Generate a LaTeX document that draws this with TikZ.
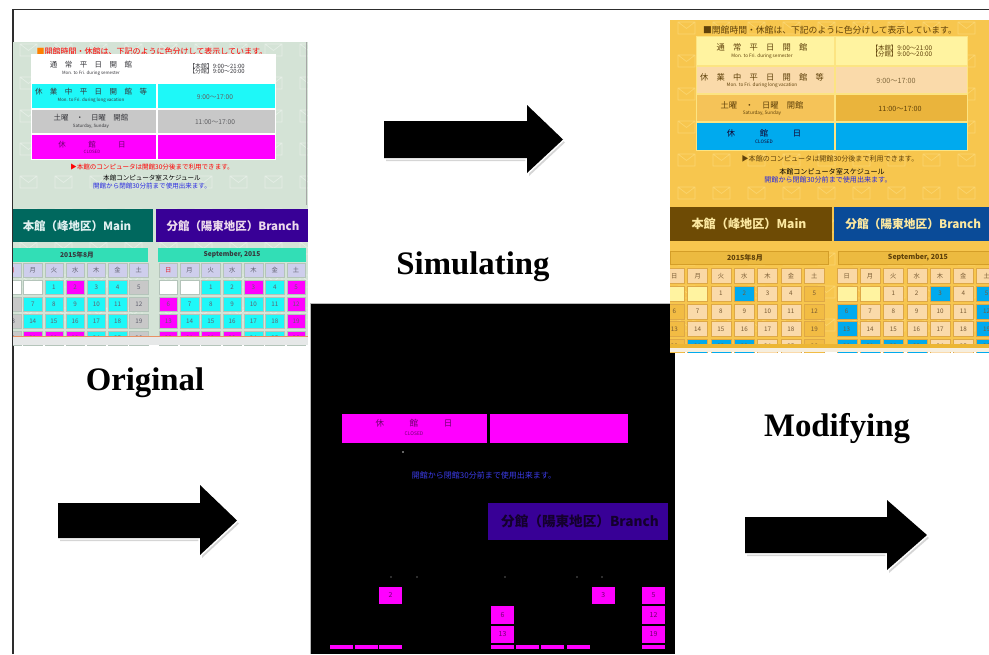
\documentclass[tikz,border=0pt]{standalone}
\usepackage{fontspec}
\setmainfont{Liberation Serif}
\newfontfamily\jp{Noto Sans CJK JP}

% frame and captions
\definecolor{framec}{RGB}{45,45,45}
% green page
\definecolor{s1bg}{RGB}{212,227,214}
\definecolor{tealbar}{RGB}{0,104,94}
\definecolor{violetbar}{RGB}{56,0,150}
\definecolor{mintbar}{RGB}{50,222,182}
\definecolor{aD}{RGB}{206,206,236}
\definecolor{aW}{RGB}{255,255,255}
\definecolor{aC}{RGB}{30,248,248}
\definecolor{aM}{RGB}{255,0,255}
\definecolor{aG}{RGB}{200,200,200}
\definecolor{aline}{RGB}{180,196,186}
\definecolor{atxt}{RGB}{95,95,110}
\definecolor{asun}{RGB}{230,30,40}
\definecolor{tabtxt}{RGB}{55,55,60}
\definecolor{linkblue}{RGB}{40,40,225}
\definecolor{s1strip}{RGB}{230,232,232}
\definecolor{s1orange}{RGB}{232,145,100}
% golden page
\definecolor{s2bg}{RGB}{247,198,78}
\definecolor{envgold}{RGB}{251,213,112}
\definecolor{bD}{RGB}{250,216,165}
\definecolor{bW}{RGB}{255,243,160}
\definecolor{bC}{RGB}{250,218,170}
\definecolor{bM}{RGB}{0,170,238}
\definecolor{bG}{RGB}{242,188,68}
\definecolor{bline}{RGB}{222,168,70}
\definecolor{btxt}{RGB}{120,90,50}
\definecolor{brownbar}{RGB}{110,75,5}
\definecolor{navybar}{RGB}{10,75,152}
\definecolor{creamtxt}{RGB}{252,232,160}
\definecolor{goldhead}{RGB}{236,186,64}
\definecolor{goldedge}{RGB}{212,158,40}
\definecolor{browntxt}{RGB}{95,65,10}
\definecolor{tabB1}{RGB}{255,243,160}
\definecolor{tabB2}{RGB}{250,218,170}
\definecolor{tabB3}{RGB}{245,195,88}
\definecolor{tabB3r}{RGB}{234,180,60}
\definecolor{tabBedge}{RGB}{252,228,130}
\definecolor{s2strip}{RGB}{236,182,52}
\definecolor{s2base}{RGB}{246,238,222}
% dark page
\definecolor{s3txt}{RGB}{110,0,110}
\definecolor{s3blue}{RGB}{60,60,235}
\definecolor{s3dark}{RGB}{20,0,45}

\newcommand\js[1]{\jp\fontsize{#1}{#1}\selectfont}

% calendar block: list, x0, x pitch, cell width, y0, y pitch, cell height, name, colour prefix
\newcommand\drawcal[9]{%
  \foreach \c/\r/\k/\t in #1 {
    \filldraw[fill=#9\k, draw=#9line, line width=0.3pt]
      ({#2+\c*#3},{#5+\r*#6}) rectangle ++(#4,#7);
    \node[inner sep=0, font=\js{4.7}, text=#9txt]
      (#8-\c-\r) at ({#2+\c*#3+#4/2},{#5+\r*#6+#7/2}) {\t};
  }}

% repeated envelope motif of the page backgrounds
\newcommand\envelopes[5]{%
  \foreach \i in {0,...,#3}{\foreach \j in {0,...,#4}{%
    \pgfmathsetmacro\ex{#1+35*\i}\pgfmathsetmacro\ey{#2+33*\j}
    \draw[#5] (\ex,\ey) rectangle ++(17,12) (\ex,\ey) -- ++(8.5,6.5) -- ++(8.5,-6.5);
  }}}

% block arrow: shaft x1,y1 to x2,y2, head from hy1 to hy2, tip at tx
\newcommand\fatarrow[7]{%
  \fill[black!30, opacity=.55, shift={(2,3)}] (#1,#2) -- (#3,#2) -- (#3,#5) -- (#7,{(#2+#4)/2}) -- (#3,#6) -- (#3,#4) -- (#1,#4) -- cycle;
  \draw[white, line width=2.4pt, line join=miter] (#1,#2) -- (#3,#2) -- (#3,#5) -- (#7,{(#2+#4)/2}) -- (#3,#6) -- (#3,#4) -- (#1,#4) -- cycle;
  \fill[black] (#1,#2) -- (#3,#2) -- (#3,#5) -- (#7,{(#2+#4)/2}) -- (#3,#6) -- (#3,#4) -- (#1,#4) -- cycle;}

\def\daysred{0/0/D/{\color{asun}日},1/0/D/月,2/0/D/火,3/0/D/水,4/0/D/木,5/0/D/金,6/0/D/土}
\def\daysplain{0/0/D/日,1/0/D/月,2/0/D/火,3/0/D/水,4/0/D/木,5/0/D/金,6/0/D/土}
\def\augS{0/1/W/{},1/1/W/{},2/1/C/1,3/1/M/2,4/1/C/3,5/1/C/4,6/1/G/5,
0/2/G/6,1/2/C/7,2/2/C/8,3/2/C/9,4/2/C/10,5/2/C/11,6/2/G/12,
0/3/G/13,1/3/C/14,2/3/C/15,3/3/C/16,4/3/C/17,5/3/C/18,6/3/G/19,
0/4/G/20,1/4/M/21,2/4/M/22,3/4/M/23,4/4/C/24,5/4/C/25,6/4/G/26}
\def\sepS{0/1/W/{},1/1/W/{},2/1/C/1,3/1/C/2,4/1/M/3,5/1/C/4,6/1/M/5,
0/2/M/6,1/2/C/7,2/2/C/8,3/2/C/9,4/2/C/10,5/2/C/11,6/2/M/12,
0/3/M/13,1/3/C/14,2/3/C/15,3/3/C/16,4/3/C/17,5/3/C/18,6/3/M/19,
0/4/M/20,1/4/M/21,2/4/M/22,3/4/M/23,4/4/C/24,5/4/C/25,6/4/M/26}

\begin{document}
\begin{tikzpicture}[x=0.75pt,y=-0.75pt,
  caption/.style={inner sep=0, text=black, font=\fontsize{24.6}{28}\selectfont\bfseries},
  jtxt/.style={inner sep=0},
  envA/.style={draw=white, opacity=.4, line width=.5pt},
  envB/.style={draw=envgold, line width=.5pt},
  mcell/.style={fill=aM},
  mnum/.style={inner sep=0, font=\js{5.2}, text=s3txt}]
\useasboundingbox (0,0) rectangle (989,654);

% outer frame
\draw[framec, line width=0.9pt] (13,654) -- (13,9.5) -- (989,9.5);

% ---------- green page ----------
\begin{scope}
\clip (13,42) rectangle (308,345);
\fill[s1bg] (13,42) rectangle (308,345);
\envelopes{20}{44}{8}{9}{envA}
\node[jtxt, font=\js{6}, text=red] (s1title) at (152,51)
  {{\color{orange}■}開館時間・休館は、下記のように色分けして表示しています。};
\fill[white] (31,54) rectangle (276,160);
\fill[aW] (32,55) rectangle (156,82);  \fill[aW] (158,55) rectangle (275,82);
\fill[aC] (32,84) rectangle (156,108); \fill[aC] (158,84) rectangle (275,108);
\fill[aG] (32,110) rectangle (156,133); \fill[aG] (158,110) rectangle (275,133);
\fill[aM] (32,135) rectangle (156,159); \fill[aM] (158,135) rectangle (275,159);
\node[jtxt, font=\js{5.6}, text=tabtxt] (s1r1) at (91,65) {通　常　平　日　開　館};
\node[jtxt, font=\js{3.3}, text=tabtxt] (s1r1e) at (91,73.5) {Mon. to Fri. during semester};
\node[jtxt, font=\js{4.4}, text=tabtxt, align=left] (s1r1t) at (217,68.5) {【本館】9:00～21:00\\[-0.6pt]【分館】9:00～20:00};
\node[jtxt, font=\js{5.6}, text=tabtxt] (s1r2) at (91,92) {休　業　中　平　日　開　館　等};
\node[jtxt, font=\js{3.3}, text=tabtxt] (s1r2e) at (91,100.5) {Mon. to Fri. during long vacation};
\node[jtxt, font=\js{5}, text=tabtxt!80] (s1r2t) at (215,97) {9:00～17:00};
\node[jtxt, font=\js{5.6}, text=tabtxt] (s1r3) at (91,118) {土曜　・　日曜　開館};
\node[jtxt, font=\js{3.3}, text=tabtxt] (s1r3e) at (91,126.5) {Saturday, Sunday};
\node[jtxt, font=\js{5}, text=tabtxt!80] (s1r3t) at (215,122) {11:00～17:00};
\node[jtxt, font=\js{5.6}, text=s3txt] (s1r4) at (92,144.5) {休　　　館　　　日};
\node[jtxt, font=\js{3.3}, text=s3txt] (s1r4e) at (92,151.5) {CLOSED};
\node[jtxt, font=\js{4.9}, text=red] (s1n1) at (152,167) {▶本館のコンピュータは開館30分後まで利用できます。};
\node[jtxt, font=\js{4.9}, text=black] (s1n2) at (152,178) {本館コンピュータ室スケジュール};
\node[jtxt, font=\js{4.9}, text=linkblue] (s1n3) at (152,186) {開館から閉館30分前まで使用出来ます。};
\fill[tealbar] (13,209) rectangle (153,242);
\fill[violetbar] (156,209) rectangle (308,242);
\node[jtxt, font=\js{8.6}\bfseries, text=white!88!teal] (s1main) at (77,226) {本館（峰地区）Main};
\node[jtxt, font=\js{8.6}\bfseries, text=white!85!violet] (s1branch) at (233,226) {分館（陽東地区）Branch};
\fill[mintbar] (13,248) rectangle (148,262);
\fill[mintbar] (158,248) rectangle (306,262);
\node[jtxt, font=\js{5}\bfseries, text=tabtxt] (s1aughead) at (77,255) {2015年8月};
\node[jtxt, font=\js{5}\bfseries, text=tabtxt] (s1sephead) at (232,255) {September, 2015};
\drawcal{\daysred}{2.3}{21.2}{18.5}{263}{17}{14}{s1a}{a}
\drawcal{\augS}{2.3}{21.2}{18.5}{263}{17}{14}{s1a}{a}
\drawcal{\daysred}{159}{21.3}{18.5}{263}{17}{14}{s1s}{a}
\drawcal{\sepS}{159}{21.3}{18.5}{263}{17}{14}{s1s}{a}
\draw[gray!70, line width=.6pt] (306.5,42) -- (306.5,205);
\fill[s1strip] (13,337) rectangle (308,345);
\draw[s1orange, line width=1.2pt] (13,336.5) -- (308,336.5);
\end{scope}

% ---------- dark page ----------
\fill[black] (310,303) rectangle (675,654);
\draw[gray!55, line width=.6pt] (310,654) -- (310,303) -- (675,303);
\fill[aM] (342,414) rectangle (487,443);
\fill[aM] (490,414) rectangle (628,443);
\node[jtxt, font=\js{6.4}, text=s3txt] (s3closed) at (414,423.5) {休　　　館　　　日};
\node[jtxt, font=\js{3.7}, text=s3txt] (s3closede) at (414,433.5) {CLOSED};
\fill[gray!40] (403,452) circle (0.9);
\node[jtxt, font=\js{6}, text=s3blue] (s3note) at (484,475) {開館から閉館30分前まで使用出来ます。};
\fill[violetbar] (488,503) rectangle (668,540);
\node[jtxt, font=\js{10.2}\bfseries, text=s3dark] (s3branch) at (580,521.5) {分館（陽東地区）Branch};
\foreach \dx in {391,417,505,577,602} \fill[gray!45] (\dx,577) circle (0.7);
\fill[mcell] (379,586.5) rectangle ++(23,17.5);   \node[mnum] (s3c2) at (390.5,595.25) {2};
\fill[mcell] (591.7,586.5) rectangle ++(23,17.5); \node[mnum] (s3c3) at (603.2,595.25) {3};
\fill[mcell] (642,586.5) rectangle ++(23,17.5);   \node[mnum] (s3c5) at (653.5,595.25) {5};
\fill[mcell] (491,606) rectangle ++(23,17.5);     \node[mnum] (s3c6) at (502.5,614.75) {6};
\fill[mcell] (642,606) rectangle ++(23,17.5);     \node[mnum] (s3c12) at (653.5,614.75) {12};
\fill[mcell] (491,625.7) rectangle ++(23,17.5);   \node[mnum] (s3c13) at (502.5,634.45) {13};
\fill[mcell] (642,625.7) rectangle ++(23,17.5);   \node[mnum] (s3c19) at (653.5,634.45) {19};
\foreach \sx in {330,354.5,379,491,516.2,541.3,566.5,642}
  \fill[mcell] (\sx,645.4) rectangle ++(23,4);

% ---------- golden page ----------
\begin{scope}
\clip (670,20) rectangle (989,352);
\fill[s2bg] (670,20) rectangle (989,352);
\envelopes{678}{22}{9}{9}{envB}
\node[jtxt, font=\js{6.6}, text=browntxt] (s2title) at (830,30)
  {■開館時間・休館は、下記のように色分けして表示しています。};
\fill[tabBedge] (696,36) rectangle (968,151);
\fill[tabB1] (697,37) rectangle (834,65);  \fill[tabB1] (836,37) rectangle (967,65);
\fill[tabB2] (697,67) rectangle (834,93);  \fill[tabB2] (836,67) rectangle (967,93);
\fill[tabB3] (697,95) rectangle (834,121); \fill[tabB3r] (836,95) rectangle (967,121);
\fill[bM] (697,123) rectangle (834,150);   \fill[bM] (836,123) rectangle (967,150);
\node[jtxt, font=\js{6.2}, text=browntxt] (s2r1) at (762,47) {通　常　平　日　開　館};
\node[jtxt, font=\js{3.5}, text=browntxt] (s2r1e) at (762,56) {Mon. to Fri. during semester};
\node[jtxt, font=\js{4.8}, text=browntxt, align=left] (s2r1t) at (902,51) {【本館】9:00～21:00\\[-0.6pt]【分館】9:00～20:00};
\node[jtxt, font=\js{6.2}, text=browntxt] (s2r2) at (762,77) {休　業　中　平　日　開　館　等};
\node[jtxt, font=\js{3.5}, text=browntxt] (s2r2e) at (762,85.5) {Mon. to Fri. during long vacation};
\node[jtxt, font=\js{5.4}, text=browntxt!80] (s2r2t) at (896,81) {9:00～17:00};
\node[jtxt, font=\js{6.2}, text=browntxt] (s2r3) at (762,105) {土曜　・　日曜　開館};
\node[jtxt, font=\js{3.5}, text=browntxt] (s2r3e) at (762,113.5) {Saturday, Sunday};
\node[jtxt, font=\js{5.4}, text=browntxt] (s2r3t) at (900,109) {11:00～17:00};
\node[jtxt, font=\js{6.2}, text=s3dark] (s2r4) at (764,133) {休　　　館　　　日};
\node[jtxt, font=\js{3.5}, text=s3dark] (s2r4e) at (764,142) {CLOSED};
\node[jtxt, font=\js{5.3}, text=browntxt] (s2n1) at (830,159) {▶本館のコンピュータは開館30分後まで利用できます。};
\node[jtxt, font=\js{5.3}, text=black] (s2n2) at (832,172) {本館コンピュータ室スケジュール};
\node[jtxt, font=\js{5.3}, text=linkblue] (s2n3) at (828,180) {開館から閉館30分前まで使用出来ます。};
\fill[brownbar] (670,207) rectangle (832,241);
\fill[navybar] (834,207) rectangle (989,241);
\node[jtxt, font=\js{9.1}\bfseries, text=creamtxt] (s2main) at (749,224) {本館（峰地区）Main};
\node[jtxt, font=\js{8.8}\bfseries, text=creamtxt, anchor=west] (s2branch) at (845,224) {分館（陽東地区）Branch};
\filldraw[fill=goldhead, draw=goldedge, line width=.5pt] (670,251) rectangle (828,264);
\filldraw[fill=goldhead, draw=goldedge, line width=.5pt] (838,251) rectangle (995,264);
\node[jtxt, font=\js{5.3}\bfseries, text=browntxt] (s2aughead) at (745,257.5) {2015年8月};
\node[jtxt, font=\js{5.3}\bfseries, text=browntxt] (s2sephead) at (918,257.5) {September, 2015};
\drawcal{\daysplain}{664.3}{23.33}{20}{268.3}{17.7}{15}{s2a}{b}
\drawcal{\augS}{664.3}{23.33}{20}{268.3}{17.7}{15}{s2a}{b}
\drawcal{\daysplain}{836.7}{23.33}{20}{268.3}{17.7}{15}{s2s}{b}
\drawcal{\sepS}{836.7}{23.33}{20}{268.3}{17.7}{15}{s2s}{b}
\fill[s2strip] (670,344) rectangle (989,347.5);
\fill[s2base] (670,347.5) rectangle (989,352);
\end{scope}

% ---------- arrows ----------
\fatarrow{384}{121}{527}{158}{105}{173}{563}
\fatarrow{58}{503}{200}{538}{485}{555}{237}
\fatarrow{745}{517}{887}{553}{500}{570}{927}

% ---------- captions ----------
\node[caption] (lorig) at (145,383) {Original};
\node[caption] (lsim) at (473,267) {Simulating};
\node[caption] (lmod) at (837,429) {Modifying};
\end{tikzpicture}
\end{document}
